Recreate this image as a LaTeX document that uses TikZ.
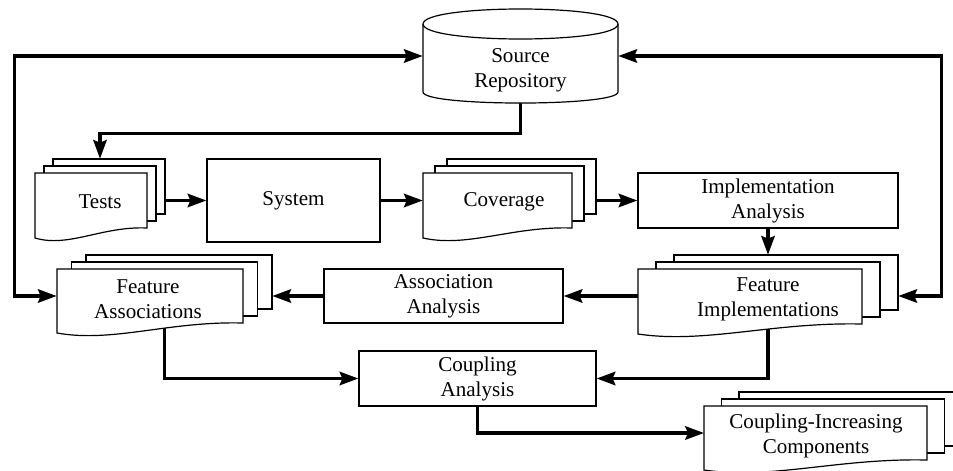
\documentclass[tikz,border=0pt]{standalone}
\usepackage{fontspec}
\setmainfont{Liberation Serif}
\usetikzlibrary{arrows.meta,fit}

% invisible frame round a stack of documents: name, x, y, w, h, dx, dy
\newcommand{\docframe}[7]{%
  \node[fit={(#2,#3-2*#7)(#2+#4+2*#6,#3+#5)}, inner sep=0pt] (#1) {};
}
% the three sheets of a stack: x, y, w, h, dx, dy
\newcommand{\docsheets}[6]{%
  \foreach \i in {2,1}
    \filldraw[sheet] (#1+\i*#5,#2-\i*#6) rectangle ++(#3,#4);
  \filldraw[sheet] (#1,#2) -- (#1+#3,#2) -- (#1+#3,#2+#4)
    .. controls (#1+0.6*#3,#2+#4-2) and (#1+0.3*#3,#2+#4+20) .. (#1,#2+#4+10) -- cycle;
}

\begin{document}
\begin{tikzpicture}[x=0.75pt, y=-0.75pt,
    box/.style={rectangle, draw, line width=0.9pt, inner sep=0pt},
    sheet/.style={draw, fill=white, line width=0.9pt},
    flow/.style={line width=2.6pt, -{Stealth[length=14pt,width=10pt,inset=2pt]}},
    both/.style={line width=2.6pt,
      {Stealth[length=14pt,width=10pt,inset=2pt]}-{Stealth[length=14pt,width=10pt,inset=2pt]}}]
    \tikzstyle{every node}=[font=\fontsize{15.8}{18.8}\selectfont, align=center]
    \useasboundingbox (0,0) rectangle (953,471);

    % analysis boxes
    \node[box, minimum width=129.75pt, minimum height=62.25pt] (sys) at (293.5,200.5) {System};
    \node[box, minimum width=195pt, minimum height=41.25pt] (impl) at (768,200.5) {Implementation\\Analysis};
    \node[box, minimum width=179.25pt, minimum height=40.5pt] (assoc) at (443.5,296) {Association\\Analysis};
    \node[box, minimum width=177.75pt, minimum height=41.25pt] (coup) at (477.5,378.5) {Coupling\\Analysis};

    % repository and document stacks
    \node[fit={(423,9)(618,103)}, inner sep=0pt] (src) {};
    \docframe{tests}{35}{173}{112}{55}{9}{7}
    \docframe{cov}{423}{173}{149}{55}{12}{7}
    \docframe{fimp}{638}{269}{224}{55}{18}{7}
    \docframe{fassoc}{57}{269}{186}{54}{14.5}{7}
    \docframe{cic}{704}{406}{223}{54}{17.5}{7}
    \coordinate (cic-in) at (704,433);

    % connectors
    \draw[flow] (src.south) -- ++(0,30) -| (tests.north);
    \draw[flow] (tests.east |- sys.west) -- (sys.west);
    \draw[flow] (sys.east) -- (cov.west |- sys.east);
    \draw[flow] (cov.east |- impl.west) -- (impl.west);
    \draw[flow] (impl.south) -- (fimp.north);
    \draw[flow] (fimp.west |- assoc.east) -- (assoc.east);
    \draw[flow] (assoc.west) -- (fassoc.east |- assoc.west);
    \draw[both] (src.west) -- ++(-408,0) |- (fassoc.west |- assoc.west);
    \draw[both] (src.east) -- ++(323,0) |- (fimp.east |- assoc.east);
    \draw[flow] (fassoc.south) |- (coup.west);
    \draw[flow] (fimp.south) |- (coup.east);
    \draw[flow] (coup.south) |- (cic-in);

    % shapes
    \filldraw[sheet] (423,24) .. controls (423,4) and (618,4) .. (618,24) -- (618,92)
      .. controls (618,106.7) and (423,106.7) .. (423,92) -- cycle;
    \draw[sheet] (423,24) .. controls (423,44) and (618,44) .. (618,24);
    \docsheets{35}{173}{112}{55}{9}{7}
    \docsheets{423}{173}{149}{55}{12}{7}
    \docsheets{638}{269}{224}{55}{18}{7}
    \docsheets{57}{269}{186}{54}{14.5}{7}
    \docsheets{704}{406}{223}{54}{17.5}{7}

    % texts
    \node (src-t) at (520.5,70) {Source\\Repository};
    \node (tests-t) at (100,202) {Tests};
    \node (cov-t) at (504,202) {Coverage};
    \node (fimp-t) at (768,299.5) {Feature\\Implementations};
    \node (fassoc-t) at (148,299.5) {Feature\\Associations};
    \node (cic-t) at (816,435.5) {Coupling-Increasing\\Components};
\end{tikzpicture}
\end{document}
